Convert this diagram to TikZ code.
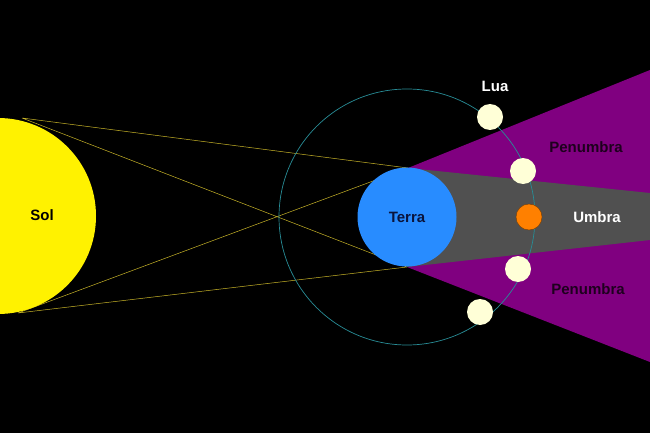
\documentclass[tikz,border=0pt]{standalone}
\usepackage{fontspec}
\setmainfont{Liberation Sans}
\definecolor{pen}{RGB}{128,0,128}
\definecolor{umb}{RGB}{80,80,80}
\definecolor{orb}{RGB}{40,140,150}
\definecolor{earth}{RGB}{40,140,255}
\definecolor{navy}{RGB}{10,20,60}
\definecolor{dpen}{RGB}{30,0,30}
\definecolor{mbrown}{RGB}{120,60,0}
\definecolor{moonc}{RGB}{255,255,215}
\definecolor{rayc}{RGB}{200,180,40}
\begin{document}
\begin{tikzpicture}[x=1pt,y=-1pt,
  moon/.style={circle,fill=moonc,minimum size=26pt,inner sep=0pt},
  lbl/.style={font=\bfseries\fontsize{15}{17}\selectfont},
  ray/.style={draw=rayc,line width=0.5pt}]
\fill[black] (0,0) rectangle (650,433);
\useasboundingbox (0,0) rectangle (650,433);
\coordinate (et) at (408,168);
\coordinate (eb) at (407,267);
\coordinate (st) at (22,118);
\coordinate (sb) at (18,313);
\fill[pen] (et) -- (650,70) -- (650,362) -- (eb) -- cycle;
\fill[umb] (et) -- (650,193) -- (650,240) -- (eb) -- cycle;
\draw[ray] (st) -- (et) (st) -- (eb) (sb) -- (et) (sb) -- (eb);
\draw[orb,line width=0.7pt] (407,217) circle (128);
\node[circle,fill=yellow,minimum size=196pt,inner sep=0pt] (sol) at (-2,216) {};
\node[lbl,text=black] (soltxt) at (42,215) {Sol};
\node[circle,fill=earth,minimum size=99pt,inner sep=0pt,text=navy,lbl] (terra) at (407,217) {Terra};
\node[moon] (m1) at (490,117) {};
\node[moon] (m2) at (523,171) {};
\node[moon,fill=orange,draw=mbrown] (m3) at (529,217) {};
\node[moon] (m4) at (518,269) {};
\node[moon] (m5) at (480,312) {};
\node[lbl,text=white] (lua) at (495,86) {Lua};
\node[lbl,text=dpen] (p1) at (586,147) {Penumbra};
\node[lbl,text=dpen] (p2) at (588,289) {Penumbra};
\node[lbl,text=white] (umbtxt) at (597,217) {Umbra};
\end{tikzpicture}
\end{document}
